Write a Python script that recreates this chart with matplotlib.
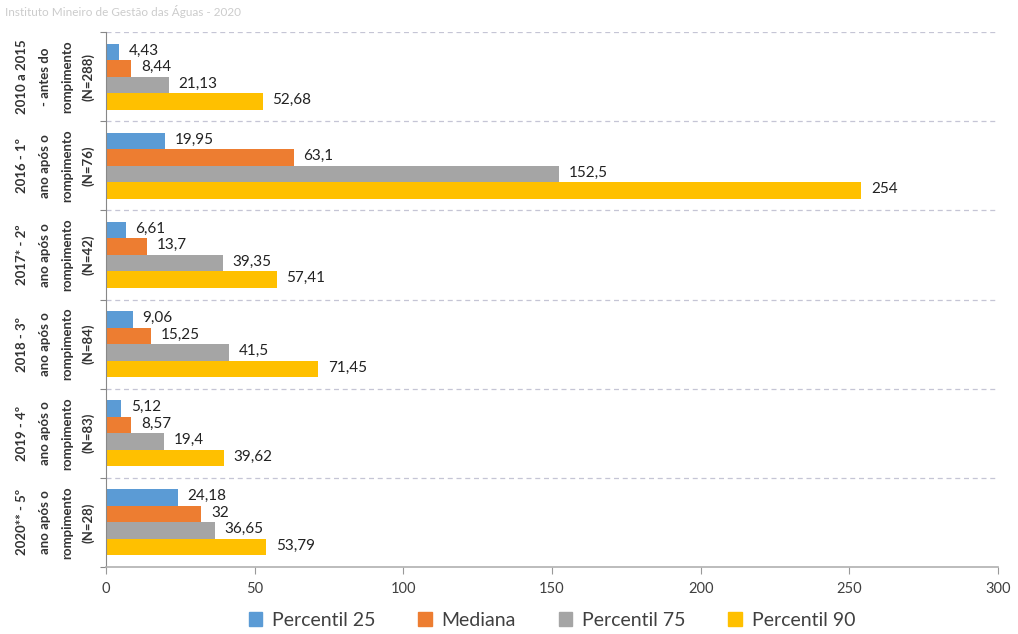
import matplotlib
matplotlib.use("Agg")
import matplotlib.pyplot as plt
import matplotlib.transforms as mtransforms
from matplotlib.patches import Patch
import numpy as np

plt.rcParams['font.family'] = ['Lato', 'DejaVu Sans']

title = "Instituto Mineiro de Gestão das Águas - 2020"
cat_line1 = ["2010 a 2015", "2016 - 1º", "2017* - 2º", "2018 - 3º", "2019 - 4º", "2020** - 5º"]
cat_line2 = ["- antes do", "ano após o", "ano após o", "ano após o", "ano após o", "ano após o"]
cat_line3 = ["rompimento"] * 6
cat_n = ["(N=288)", "(N=76)", "(N=42)", "(N=84)", "(N=83)", "(N=28)"]

series_names = ["Percentil 25", "Mediana", "Percentil 75", "Percentil 90"]
p25 = [4.43, 19.95, 6.61, 9.06, 5.12, 24.18]
mediana = [8.44, 63.1, 13.7, 15.25, 8.57, 32]
p75 = [21.13, 152.5, 39.35, 41.5, 19.4, 36.65]
p90 = [52.68, 254, 57.41, 71.45, 39.62, 53.79]
colors = ["#5B9BD5", "#ED7D31", "#A5A5A5", "#FFC000"]
xticks = [0, 50, 100, 150, 200, 250, 300]

fig = plt.figure(figsize=(10.18, 6.34), dpi=100)
ax = fig.add_axes([106/1018, 1-567/634, (998-106)/1018, (567-32)/634])

n = len(cat_line1)
y = np.arange(n)
bh = 0.185
all_series = [p25, mediana, p75, p90]
for i, (vals, c, name) in enumerate(zip(all_series, colors, series_names)):
    offs = (i - 1.5) * bh
    ax.barh(y + offs, vals, height=bh, color=c, label=name)
    for yy, v in zip(y + offs, vals):
        txt = f"{v:g}".replace(".", ",")
        ax.annotate(txt, (v, yy), xytext=(7, 1), textcoords="offset points",
                    va="center", ha="left", fontsize=11, color="#222222")

ax.set_xlim(0, 300)
ax.set_ylim(n - 0.5, -0.5)
ax.set_xticks(xticks)
ax.set_xticklabels([str(t) for t in xticks], fontsize=10.5, color="#404040")
ax.set_yticks(np.arange(-0.5, n + 0.5, 1.0))
ax.set_yticklabels([])
ax.tick_params(axis='y', direction='out', length=4, color="#888888")
ax.tick_params(axis='x', direction='out', length=5, color="#999999", pad=6)

for b in np.arange(-0.5, n - 0.5, 1.0):
    ax.axhline(b, color="#c5c5d5", linestyle=(0, (4, 3)), linewidth=0.9, zorder=0)

for s in ["top", "right"]:
    ax.spines[s].set_visible(False)
ax.spines["left"].set_color("#888888")
ax.spines["bottom"].set_color("#b0b0b0")
ax.spines["bottom"].set_linewidth(1.2)

trans = mtransforms.blended_transform_factory(fig.transFigure, ax.transData)
for i in range(n):
    for xp, txt in zip([22, 45, 67, 88], [cat_line1[i], cat_line2[i], cat_line3[i], cat_n[i]]):
        ax.text(xp/1018, i, txt, transform=trans, rotation=90, ha="center", va="center",
                fontsize=9.5, fontweight="bold", color="#333333", clip_on=False)

fig.text(5/1018, 1-12/634, title, fontsize=8.5, color="#cccccc", ha="left", va="center")

handles = [Patch(facecolor=c, edgecolor=c) for c in colors]
fig.legend(handles, series_names, loc="center", bbox_to_anchor=(552/1018, 1-620/634),
           ncol=4, frameon=False, fontsize=14, handlelength=0.7, handleheight=0.7,
           handletextpad=0.5, columnspacing=2.2, labelcolor="#404040")

fig.savefig("out.png", dpi=100)
